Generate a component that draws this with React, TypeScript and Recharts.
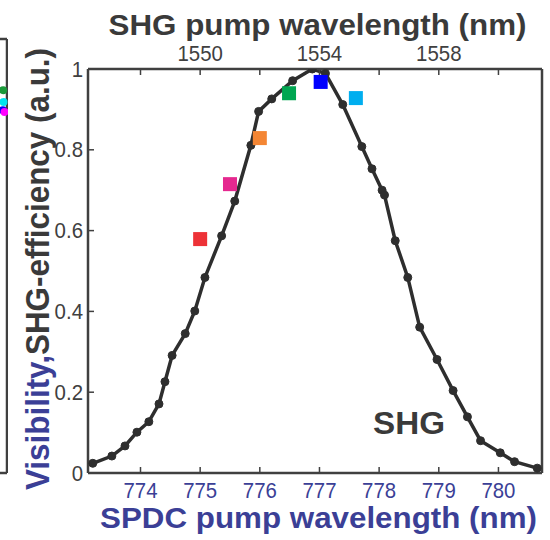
import { ComposedChart, Line, Scatter, XAxis, YAxis, ReferenceLine } from 'recharts'

const FONT = '"Liberation Sans", Arial, Helvetica, sans-serif'
const FRAME = '#404040'
const INK = '#2e2e2e'
const BLUE = '#3b3f96'

// SHG efficiency scan, x = SPDC pump wavelength (nm)
const shgWavelength = [
  773.2, 773.52, 773.74, 773.94, 774.14, 774.31, 774.41, 774.53, 774.75, 774.91,
  775.08, 775.36, 775.58, 775.85, 775.98, 776.2, 776.55, 776.88, 777.1, 777.39,
  777.71, 777.88, 778.05, 778.09, 778.27, 778.48, 778.68, 778.97, 779.24, 779.48,
  779.7, 780.03, 780.27, 780.65,
]
const shgEfficiency = [
  0.024, 0.042, 0.067, 0.101, 0.127, 0.171, 0.226, 0.291, 0.345, 0.401,
  0.484, 0.587, 0.673, 0.811, 0.895, 0.926, 0.971, 1.0, 0.989, 0.912,
  0.808, 0.753, 0.7, 0.688, 0.575, 0.484, 0.361, 0.281, 0.204, 0.139,
  0.08, 0.05, 0.028, 0.012,
]

// visibility points (coloured squares), x = SPDC pump wavelength (nm)
const visWavelength = [775.0, 775.5, 776.0, 776.49, 777.02, 777.61]
const visValue = [0.579, 0.715, 0.829, 0.94, 0.968, 0.928]
const visColors = ['#ed3237', '#e5288f', '#f48634', '#00a651', '#0000ff', '#00aeef']

const spdcTicks = [774, 775, 776, 777, 778, 779, 780]
const shgTicks = [1548, 1550, 1552, 1554, 1556, 1558, 1560]
const shgTickLabels = [1550, 1554, 1558]
const yTicks = [0, 0.2, 0.4, 0.6, 0.8, 1]

// neighbouring panel, only its right edge shows
const sideTicks = [0.061, 0.107, 0.149, 0.195, 0.241, 0.299, 0.349, 0.521, 0.588, 0.648, 0.737, 0.798, 0.844]
const sideX = [0.45, 0.5, 0.4, 0.65]
const sideY = [0.882, 0.855, 0.836, 0.832]
const sideColors = ['#1a9a3a', '#00e5ee', '#0000ff', '#ff00ff']

const curve = shgWavelength.map((x, i) => ({ x, y: shgEfficiency[i] }))
// SHG wavelength is twice the SPDC pump wavelength, so the squares are plotted on the top axis
const visibility = visWavelength.map((x, i) => ({ shg: 2 * x, y: visValue[i], color: visColors[i] }))
const side = sideX.map((x, i) => ({ x, y: sideY[i], color: sideColors[i] }))

function NarrowTick(props: any) {
  const { x, y, payload, fill, textAnchor, dy, show } = props
  if (show && !show.includes(payload.value)) return <g />
  return (
    <text
      transform={`translate(${x},${y}) scale(0.95,1)`}
      textAnchor={textAnchor}
      dy={dy}
      fill={fill}
      fontSize={21.5}
      fontFamily={FONT}
    >
      {payload.value}
    </text>
  )
}

const Square = (p: any) => <rect x={p.cx - 7} y={p.cy - 7} width={14} height={14} fill={p.payload.color} />
const Dot = (p: any) => <circle cx={p.cx} cy={p.cy} r={4} fill={p.payload.color} />

const axisLine = { stroke: FRAME, strokeWidth: 2.5 }
const tickLine = { stroke: FRAME, strokeWidth: 1.5 }

export default function App() {
  return (
    <div style={{ position: 'absolute', left: 0, top: 0, width: 550, height: 540, background: '#fff' }}>
      <div style={{ position: 'absolute', left: 0, top: 0 }}>
        <ComposedChart width={550} height={540} margin={{ top: 0, right: 0, bottom: 0, left: 0 }}>
          <XAxis
            xAxisId="b"
            dataKey="x"
            type="number"
            domain={[773.12, 780.73]}
            allowDataOverflow
            ticks={spdcTicks}
            height={67}
            tickSize={-6}
            tickMargin={16}
            axisLine={axisLine}
            tickLine={tickLine}
            tick={(p: any) => <NarrowTick {...p} fill={BLUE} dy="0.71em" />}
          />
          <XAxis
            xAxisId="t"
            dataKey="shg"
            orientation="top"
            type="number"
            domain={[1546.24, 1561.46]}
            allowDataOverflow
            ticks={shgTicks}
            height={69}
            tickSize={-6}
            tickMargin={14}
            axisLine={axisLine}
            tickLine={tickLine}
            tick={(p: any) => <NarrowTick {...p} fill={FRAME} dy="0" show={shgTickLabels} />}
          />
          <YAxis
            yAxisId="l"
            dataKey="y"
            type="number"
            domain={[0, 1]}
            allowDataOverflow
            ticks={yTicks}
            width={88}
            tickSize={-6}
            tickMargin={11}
            axisLine={axisLine}
            tickLine={tickLine}
            tick={(p: any) => <NarrowTick {...p} fill={FRAME} dy="0.355em" />}
          />
          <YAxis
            yAxisId="r"
            dataKey="y"
            orientation="right"
            type="number"
            domain={[0, 1]}
            allowDataOverflow
            ticks={yTicks}
            width={8}
            tickSize={-6}
            axisLine={axisLine}
            tickLine={tickLine}
            tick={false}
          />
          <Line
            xAxisId="b"
            yAxisId="l"
            data={curve}
            dataKey="y"
            type="linear"
            stroke={INK}
            strokeWidth={3.5}
            dot={{ r: 4, fill: INK, stroke: INK, strokeWidth: 1 }}
            isAnimationActive={false}
          />
          <Scatter
            xAxisId="t"
            yAxisId="r"
            data={visibility}
            dataKey="y"
            shape={Square}
            isAnimationActive={false}
          />
        </ComposedChart>
      </div>

      <div style={{ position: 'absolute', left: 0, top: 0 }}>
        <ComposedChart width={8} height={540} margin={{ top: 39, right: 0, bottom: 67, left: 0 }}>
          <XAxis dataKey="x" type="number" domain={[0, 1]} hide />
          <YAxis
            orientation="right"
            type="number"
            dataKey="y"
            domain={[0, 1]}
            ticks={sideTicks}
            width={1}
            tickSize={-5}
            axisLine={axisLine}
            tickLine={tickLine}
            tick={false}
          />
          <ReferenceLine y={1} stroke={FRAME} strokeWidth={2.5} />
          <ReferenceLine y={0} stroke={FRAME} strokeWidth={2.5} />
          <Scatter data={side} dataKey="y" shape={Dot} isAnimationActive={false} />
        </ComposedChart>
      </div>

      <svg width={550} height={540} style={{ position: 'absolute', left: 0, top: 0, pointerEvents: 'none' }}>
        <text x={317.5} y={35} textAnchor="middle" fontSize={30} fontWeight="bold" fontFamily={FONT} fill="#3a3a3a" textLength={418} lengthAdjust="spacingAndGlyphs">
          SHG pump wavelength (nm)
        </text>
        <text x={318.5} y={528} textAnchor="middle" fontSize={29} fontWeight="bold" fontFamily={FONT} fill={BLUE} textLength={437} lengthAdjust="spacingAndGlyphs">
          SPDC pump wavelength (nm)
        </text>
        <text transform="translate(49,269) rotate(-90)" textAnchor="middle" fontSize={33} fontWeight="bold" fontFamily={FONT} textLength={442} lengthAdjust="spacingAndGlyphs">
          <tspan fill={BLUE}>Visibility,</tspan>
          <tspan fill="#3a3a3a">SHG-efficiency (a.u.)</tspan>
        </text>
        <text x={373} y={434} fontSize={31} fontWeight="bold" fontFamily={FONT} fill="#3a3a3a" textLength={72} lengthAdjust="spacingAndGlyphs">
          SHG
        </text>
      </svg>
    </div>
  )
}
